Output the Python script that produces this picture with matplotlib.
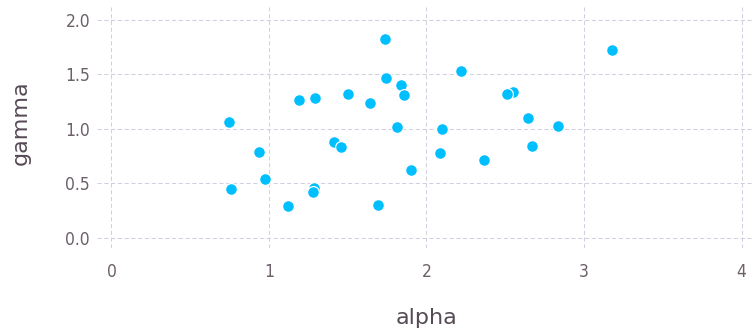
import matplotlib
matplotlib.use("Agg")
import matplotlib.pyplot as plt

alpha = [0.746, 0.759, 0.937, 0.973, 1.121, 1.192, 1.294, 1.284, 1.277, 1.415,
         1.459, 1.502, 1.639, 1.690, 1.737, 1.743, 1.815, 1.836, 1.857, 1.900,
         2.097, 2.086, 2.221, 2.363, 2.547, 2.511, 2.643, 2.668, 2.837, 3.176]
gamma = [1.067, 0.447, 0.792, 0.541, 0.294, 1.266, 1.287, 0.461, 0.422, 0.881,
         0.832, 1.324, 1.241, 0.303, 1.826, 1.468, 1.021, 1.406, 1.312, 0.627,
         0.997, 0.780, 1.535, 0.716, 1.339, 1.318, 1.104, 0.847, 1.030, 1.725]
x_ticks = [0, 1, 2, 3, 4]
x_tick_labels = ["0", "1", "2", "3", "4"]
y_ticks = [0.0, 0.5, 1.0, 1.5, 2.0]
y_tick_labels = ["0.0", "0.5", "1.0", "1.5", "2.0"]

fig = plt.figure(figsize=(7.53, 3.32), dpi=100)
ax = fig.add_axes([97/753, 1 - 248/332, 1 - 97/753, (248 - 7)/332])

ax.scatter(alpha, gamma, s=72, color="#00BFFF", edgecolors="white",
           linewidths=0.9, zorder=3)

ax.set_xlim(-0.092, 4.073)
ax.set_ylim(-0.092, 2.119)
ax.set_xticks(x_ticks)
ax.set_xticklabels(x_tick_labels)
ax.set_yticks(y_ticks)
ax.set_yticklabels(y_tick_labels)
for s in ax.spines.values():
    s.set_visible(False)
ax.tick_params(length=0, colors="#6C606B", labelsize=12.5)
ax.tick_params(axis="x", pad=10.5)
ax.tick_params(axis="y", pad=5)
for lab in ax.get_xticklabels() + ax.get_yticklabels():
    lab.set_fontfamily("DejaVu Sans")
    lab.set_fontstretch("condensed")
ax.grid(True, color="#D0D0E0", linestyle=(0, (4, 2.5)), linewidth=0.75, zorder=0)

fig.text(426/753, 1 - 318/332, "alpha", ha="center", va="center",
         color="#564A55", fontsize=16, family="DejaVu Sans")
fig.text(21/753, 1 - 123/332, "gamma", ha="center", va="center",
         rotation=90, color="#564A55", fontsize=16, family="DejaVu Sans")

fig.savefig("out.png", dpi=100)
